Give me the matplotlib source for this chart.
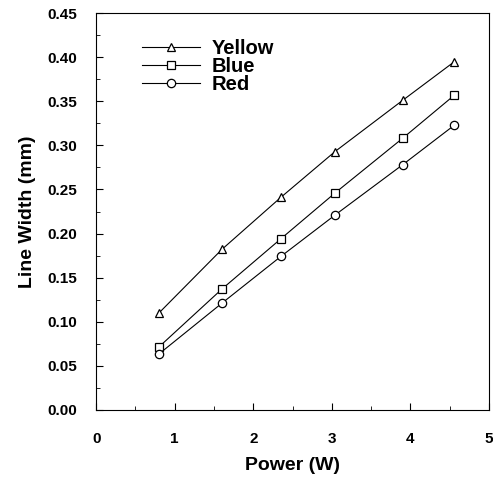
import numpy as np
import matplotlib.pyplot as plt
from matplotlib.ticker import MultipleLocator

plt.rcParams['font.family'] = ['Liberation Sans', 'DejaVu Sans']
plt.rcParams['font.weight'] = 'bold'

power = [0.8, 1.6, 2.35, 3.04, 3.9, 4.56]
yellow = [0.110, 0.182, 0.241, 0.293, 0.351, 0.395]
blue = [0.0715, 0.137, 0.194, 0.246, 0.308, 0.357]
red = [0.0635, 0.121, 0.174, 0.221, 0.278, 0.323]

fig = plt.figure(figsize=(4.93, 4.84), dpi=100)
ax = fig.add_axes([0.195, 0.153, 0.797, 0.82])

style = dict(color='black', linewidth=0.8, markerfacecolor='white', markeredgecolor='black',
             markeredgewidth=0.9, markersize=6)
ax.plot(power, yellow, marker='^', label='Yellow', **style)
ax.plot(power, blue, marker='s', label='Blue', **style)
ax.plot(power, red, marker='o', label='Red', **style)

ax.set_xlim(0, 5)
ax.set_ylim(0, 0.45)
ax.xaxis.set_major_locator(MultipleLocator(1))
ax.xaxis.set_minor_locator(MultipleLocator(0.5))
ax.yaxis.set_major_locator(MultipleLocator(0.05))
ax.yaxis.set_minor_locator(MultipleLocator(0.025))
ax.yaxis.set_major_formatter(plt.FormatStrFormatter('%.2f'))
ax.tick_params(which='both', direction='in', labelsize=11)
ax.tick_params(which='major', length=5)
ax.tick_params(which='minor', length=3)
ax.tick_params(axis='x', pad=16)
ax.tick_params(axis='y', pad=14)

ax.set_xlabel('Power (W)', fontsize=14, fontweight='bold', labelpad=8)
ax.set_ylabel('Line Width (mm)', fontsize=14, fontweight='bold', labelpad=8)

ax.legend(loc='upper left', bbox_to_anchor=(0.07, 0.98), frameon=False, fontsize=14.5,
          handlelength=2.9, handletextpad=0.55, labelspacing=-0.05)

fig.savefig('out.png', dpi=100)
